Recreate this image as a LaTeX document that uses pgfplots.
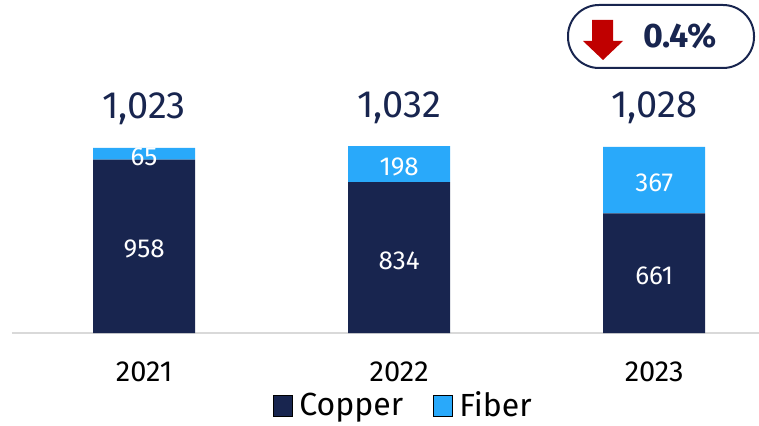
\documentclass[border=0pt]{standalone}
\usepackage{fontspec}
\setmainfont{Fira Sans}
\usepackage{pgfplots}
\pgfplotsset{compat=1.18}
\definecolor{navy}{HTML}{18254F}
\definecolor{lblue}{HTML}{29A9FA}
\definecolor{redarrow}{HTML}{C00000}
\tikzset{inlab/.style={font=\fontsize{26}{26}\selectfont, text=white, anchor=center, yshift=-3pt},
         totlab/.style={font=\fontsize{38}{38}\selectfont, text=navy, anchor=base, yshift=29pt}}
\begin{document}
\begin{tikzpicture}
\useasboundingbox (0pt,0pt) rectangle (759pt,425pt);
\begin{axis}[
 at={(12pt,92pt)}, anchor=south west,
 scale only axis, width=747pt, height=333pt,
 xmin=-0.518, xmax=2.411, ymin=0, ymax=1840,
 axis y line=none, axis x line=bottom,
 axis line style={draw=black!15, line width=1.5pt, -},
 ybar stacked, bar width=102pt,
 xtick={0,1,2}, xticklabels={2021,2022,2023},
 xtick style={draw=none}, major tick length=0pt,
 xticklabel style={font=\fontsize{29}{29}\selectfont, text=black, anchor=center, yshift=-39pt},
 clip=false,
 legend columns=2,
 legend style={draw=none, fill=none, at={(0.524,-0.217)}, anchor=center,
   font=\fontsize{32}{32}\selectfont, nodes={inner ysep=0pt},
   /tikz/every odd column/.append style={column sep=5pt},
   /tikz/every even column/.append style={column sep=28pt}},
 area legend,
 legend image post style={xscale=1.1, yscale=3.7},
]
\addplot[fill=navy, draw=none] coordinates {(0,958) (1,834) (2,661)};
\addplot[fill=lblue, draw=none] coordinates {(0,65) (1,198) (2,367)};
\legend{Copper,Fiber}
\coordinate (a1) at (axis cs:0,479);
\coordinate (a2) at (axis cs:0,990.5);
\coordinate (b1) at (axis cs:1,417);
\coordinate (b2) at (axis cs:1,933);
\coordinate (c1) at (axis cs:2,330.5);
\coordinate (c2) at (axis cs:2,844.5);
\node[totlab] at (axis cs:0,1023) {1,023};
\node[totlab] at (axis cs:1,1032) {1,032};
\node[totlab] at (axis cs:2,1028) {1,028};
\end{axis}
\node[inlab] at (a1) {958};
\node[inlab] at (a2) {65};
\node[inlab] at (b1) {834};
\node[inlab] at (b2) {198};
\node[inlab] at (c1) {661};
\node[inlab] at (c2) {367};
\draw[navy, line width=2pt, rounded corners=31pt] (568pt,357pt) rectangle (754pt,420pt);
\fill[redarrow] (592pt,405pt) -- (613pt,405pt) -- (613pt,384pt) -- (623pt,384pt) -- (603pt,365pt) -- (583pt,384pt) -- (592pt,384pt) -- cycle;
\node[text=navy, font=\fontsize{34}{34}\selectfont\bfseries, anchor=center] at (680pt,389.5pt) {0.4\%};
\end{tikzpicture}
\end{document}
